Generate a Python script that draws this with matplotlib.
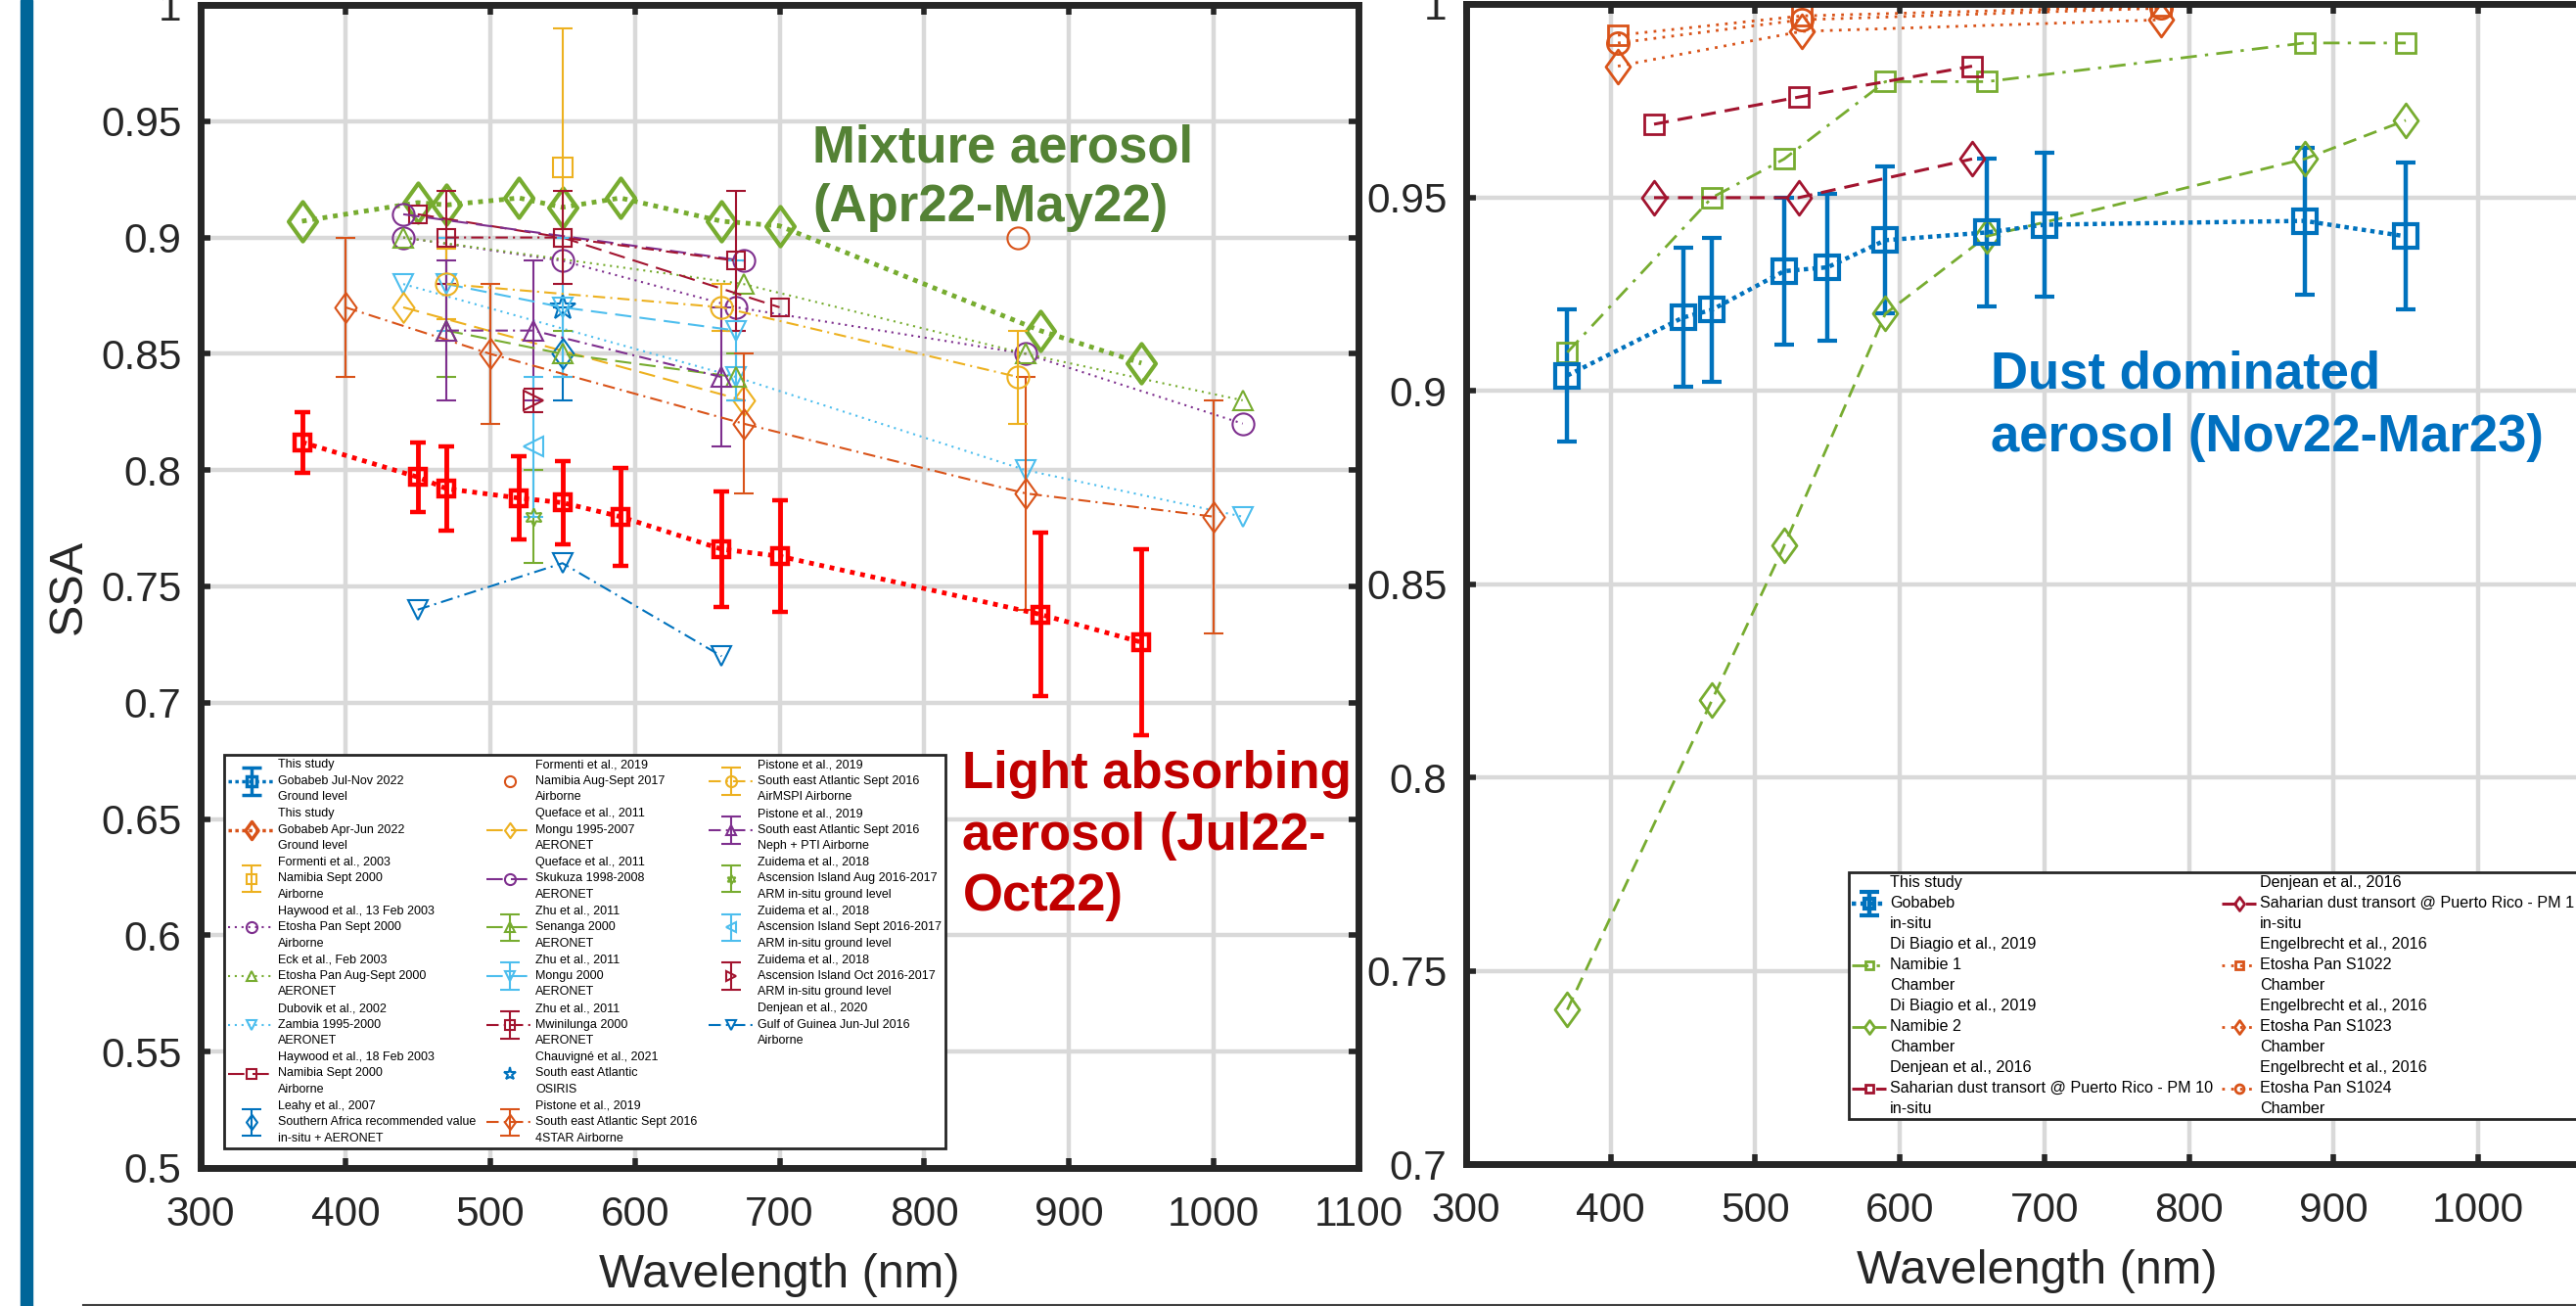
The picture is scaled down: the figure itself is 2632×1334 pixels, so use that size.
import numpy as np
import matplotlib.pyplot as plt
from matplotlib.path import Path
from matplotlib.lines import Line2D
from matplotlib.patches import Rectangle
from matplotlib.container import ErrorbarContainer
from matplotlib.legend_handler import HandlerErrorbar
from matplotlib.ticker import FuncFormatter

plt.rcParams['font.family'] = ['Liberation Sans', 'DejaVu Sans']

# MATLAB default colours
BLUE = '#0072BD'
ORANGE = '#D95319'
YELLOW = '#EDB120'
PURPLE = '#7E2F8E'
GREEN = '#77AC30'
LBLUE = '#4DBEEE'
MAROON = '#A2142F'
AXCOL = '#262626'

# ---------------- left panel data ----------------
# this study, Jul-Nov 2022 (light absorbing)
wl_jul = [370, 450, 470, 520, 550, 590, 660, 700, 880, 950]
ssa_jul = [0.812, 0.797, 0.792, 0.788, 0.786, 0.780, 0.766, 0.763, 0.738, 0.726]
err_jul = [0.013, 0.015, 0.018, 0.018, 0.018, 0.021, 0.025, 0.024, 0.035, 0.040]
# this study, Apr-Jun 2022 (mixture)
wl_apr = [370, 450, 470, 520, 550, 590, 660, 700, 880, 950]
ssa_apr = [0.907, 0.915, 0.914, 0.917, 0.913, 0.917, 0.907, 0.905, 0.860, 0.846]

wl_formenti03, ssa_formenti03, err_formenti03 = [550], [0.93], [0.06]
wl_haywood13 = [440, 550, 670, 870, 1020]
ssa_haywood13 = [0.90, 0.89, 0.87, 0.85, 0.82]
wl_eck = [440, 675, 870, 1020]
ssa_eck = [0.90, 0.88, 0.85, 0.83]
wl_dubovik = [440, 670, 870, 1020]
ssa_dubovik = [0.88, 0.84, 0.80, 0.78]
wl_haywood18 = [450, 550, 700]
ssa_haywood18 = [0.91, 0.90, 0.87]
wl_leahy, ssa_leahy, err_leahy = [550], [0.85], [0.02]
wl_formenti19, ssa_formenti19 = [865], [0.90]
wl_qmongu = [440, 675]
ssa_qmongu = [0.87, 0.83]
wl_skukuza = [440, 675]
ssa_skukuza = [0.91, 0.89]
wl_zhu = [470, 550, 670]
ssa_senanga = [0.86, 0.85, 0.84]
err_senanga = [0.02, 0.01, 0.01]
ssa_zmongu = [0.88, 0.87, 0.86]
err_zmongu = [0.02, 0.03, 0.03]
ssa_mwinilunga = [0.90, 0.90, 0.89]
err_mwinilunga = [0.02, 0.02, 0.03]
wl_chauvigne, ssa_chauvigne = [550], [0.87]
wl_4star = [400, 500, 675, 870, 1000]
ssa_4star = [0.87, 0.85, 0.82, 0.79, 0.78]
err_4star = [0.03, 0.03, 0.03, 0.05, 0.05]
wl_airmspi = [470, 660, 865]
ssa_airmspi = [0.88, 0.87, 0.84]
err_airmspi = [0.015, 0.01, 0.02]
wl_neph = [470, 530, 660]
ssa_neph = [0.86, 0.86, 0.84]
err_neph = [0.03, 0.03, 0.03]
wl_zuidema = [530]
ssa_zaug, err_zaug = [0.78], [0.02]
ssa_zsep, err_zsep = [0.81], [0.03]
ssa_zoct, err_zoct = [0.83], [0.005]
wl_denjean20 = [450, 550, 660]
ssa_denjean20 = [0.74, 0.76, 0.72]

labels_left = [
    "This study\nGobabeb Jul-Nov 2022\nGround level",
    "This study\nGobabeb Apr-Jun 2022\nGround level",
    "Formenti et al., 2003\nNamibia Sept 2000\nAirborne",
    "Haywood et al., 13 Feb 2003\nEtosha Pan Sept 2000\nAirborne",
    "Eck et al., Feb 2003\nEtosha Pan Aug-Sept 2000\nAERONET",
    "Dubovik et al., 2002\nZambia 1995-2000\nAERONET",
    "Haywood et al., 18 Feb 2003\nNamibia Sept 2000\nAirborne",
    "Leahy et al., 2007\nSouthern Africa recommended value\nin-situ + AERONET",
    "Formenti et al., 2019\nNamibia Aug-Sept 2017\nAirborne",
    "Queface et al., 2011\nMongu 1995-2007\nAERONET",
    "Queface et al., 2011\nSkukuza 1998-2008\nAERONET",
    "Zhu et al., 2011\nSenanga 2000\nAERONET",
    "Zhu et al., 2011\nMongu 2000\nAERONET",
    "Zhu et al., 2011\nMwinilunga 2000\nAERONET",
    "Chauvigné et al., 2021\nSouth east Atlantic\nOSIRIS",
    "Pistone et al., 2019\nSouth east Atlantic Sept 2016\n4STAR Airborne",
    "Pistone et al., 2019\nSouth east Atlantic Sept 2016\nAirMSPI Airborne",
    "Pistone et al., 2019\nSouth east Atlantic Sept 2016\nNeph + PTI Airborne",
    "Zuidema et al., 2018\nAscension Island Aug 2016-2017\nARM in-situ ground level",
    "Zuidema et al., 2018\nAscension Island Sept 2016-2017\nARM in-situ ground level",
    "Zuidema et al., 2018\nAscension Island Oct 2016-2017\nARM in-situ ground level",
    "Denjean et al., 2020\nGulf of Guinea Jun-Jul 2016\nAirborne",
]

# ---------------- right panel data ----------------
wl_gob = [370, 450, 470, 520, 550, 590, 660, 700, 880, 950]
ssa_gob = [0.904, 0.919, 0.921, 0.931, 0.932, 0.939, 0.941, 0.943, 0.944, 0.940]
err_gob = [0.017, 0.018, 0.0185, 0.019, 0.019, 0.019, 0.019, 0.0185, 0.019, 0.019]
wl_dibiagio = [370, 470, 520, 590, 660, 880, 950]
ssa_nam1 = [0.91, 0.95, 0.96, 0.98, 0.98, 0.99, 0.99]
ssa_nam2 = [0.74, 0.82, 0.86, 0.92, 0.94, 0.96, 0.97]
wl_denjean16 = [430, 530, 650]
ssa_pm10 = [0.969, 0.976, 0.984]
ssa_pm1 = [0.95, 0.95, 0.96]
wl_engel = [405, 532, 781]
ssa_s1022 = [0.992, 0.997, 0.9995]
ssa_s1023 = [0.984, 0.993, 0.996]
ssa_s1024 = [0.990, 0.996, 0.999]

labels_right = [
    "This study\nGobabeb\nin-situ",
    "Di Biagio et al., 2019\nNamibie 1\nChamber",
    "Di Biagio et al., 2019\nNamibie 2\nChamber",
    "Denjean et al., 2016\nSaharian dust transort @ Puerto Rico - PM 10\nin-situ",
    "Denjean et al., 2016\nSaharian dust transort @ Puerto Rico - PM 1\nin-situ",
    "Engelbrecht et al., 2016\nEtosha Pan S1022\nChamber",
    "Engelbrecht et al., 2016\nEtosha Pan S1023\nChamber",
    "Engelbrecht et al., 2016\nEtosha Pan S1024\nChamber",
]

# marker / line styles
DIAMOND = Path([(0, 1), (0.72, 0), (0, -1), (-0.72, 0), (0, 1)],
               [Path.MOVETO, Path.LINETO, Path.LINETO, Path.LINETO, Path.CLOSEPOLY])
HEXAGRAM = (6, 1, 0)
DOT = (0, (1, 2.3))
BIGDOT = (0, (1, 1.2))
DASH = (0, (8, 4))
DASHDOT = (0, (6, 2.5, 1, 2.5))
DASH_R = (0, (5, 3))
DASHDOT_R = (0, (6, 3, 1.2, 3))


def series(ax, x, y, color, ls, marker, ms, err=None, lw=1.5, mew=1.5, capsize=7):
    if err is None:
        h, = ax.plot(x, y, color=color, linestyle=ls, linewidth=lw, marker=marker,
                     markersize=ms, markerfacecolor='none', markeredgewidth=mew)
    else:
        h = ax.errorbar(x, y, yerr=err, color=color, linestyle=ls, linewidth=lw,
                        marker=marker, markersize=ms, markerfacecolor='none',
                        markeredgewidth=mew, elinewidth=lw, capsize=capsize)
    return h


W, H = 2632, 1334
fig = plt.figure(figsize=(W / 100, H / 100), dpi=100)
ax1 = fig.add_axes([205 / W, 1 - 1193 / H, 1183 / W, 1188 / H])
ax2 = fig.add_axes([1498 / W, 1 - 1189.4 / H, 1181.6 / W, 1185 / H])

# ---------------- left panel ----------------
# plotted data of this study
series(ax1, wl_apr, ssa_apr, GREEN, BIGDOT, DIAMOND, 29, lw=3.5, mew=3)
series(ax1, wl_jul, ssa_jul, 'red', BIGDOT, 's', 12, err=err_jul, lw=3.5, mew=3.2, capsize=6)

# legend proxies (legend colours differ from the plotted ones)
nan = [np.nan]
h_left = [
    ax1.errorbar(nan, nan, yerr=nan, color=BLUE, linestyle=(0, (1, 1)), linewidth=2.5,
                 marker='s', markersize=13, markerfacecolor='none', markeredgewidth=2.5,
                 elinewidth=2.5, capsize=7),
    ax1.plot(nan, nan, color=ORANGE, linestyle=(0, (1, 1)), linewidth=2.5, marker=DIAMOND,
             markersize=26, markerfacecolor='none', markeredgewidth=2.5)[0],
]
h_left += [
    series(ax1, wl_formenti03, ssa_formenti03, YELLOW, 'none', 's', 15, err=err_formenti03),
    series(ax1, wl_haywood13, ssa_haywood13, PURPLE, DOT, 'o', 16),
    series(ax1, wl_eck, ssa_eck, GREEN, DOT, '^', 14),
    series(ax1, wl_dubovik, ssa_dubovik, LBLUE, DOT, 'v', 14),
    series(ax1, wl_haywood18, ssa_haywood18, MAROON, DASH, 's', 13),
    series(ax1, wl_leahy, ssa_leahy, BLUE, 'none', DIAMOND, 22, err=err_leahy),
    series(ax1, wl_formenti19, ssa_formenti19, ORANGE, 'none', 'o', 16),
    series(ax1, wl_qmongu, ssa_qmongu, YELLOW, DASH, DIAMOND, 22),
    series(ax1, wl_skukuza, ssa_skukuza, PURPLE, DASH, 'o', 16),
    series(ax1, wl_zhu, ssa_senanga, GREEN, DASH, '^', 14, err=err_senanga),
    series(ax1, wl_zhu, ssa_zmongu, LBLUE, DASH, 'v', 14, err=err_zmongu),
    series(ax1, wl_zhu, ssa_mwinilunga, MAROON, DASHDOT, 's', 13, err=err_mwinilunga),
    series(ax1, wl_chauvigne, ssa_chauvigne, BLUE, 'none', '*', 19),
    series(ax1, wl_4star, ssa_4star, ORANGE, DASHDOT, DIAMOND, 22, err=err_4star),
    series(ax1, wl_airmspi, ssa_airmspi, YELLOW, DASHDOT, 'o', 16, err=err_airmspi),
    series(ax1, wl_neph, ssa_neph, PURPLE, DASHDOT, '^', 14, err=err_neph),
    series(ax1, wl_zuidema, ssa_zaug, GREEN, 'none', HEXAGRAM, 13, err=err_zaug),
    series(ax1, wl_zuidema, ssa_zsep, LBLUE, 'none', '<', 14, err=err_zsep),
    series(ax1, wl_zuidema, ssa_zoct, MAROON, 'none', '>', 14, err=err_zoct),
    series(ax1, wl_denjean20, ssa_denjean20, BLUE, DASHDOT, 'v', 14),
]
blank = Line2D([], [], linestyle='none', marker='none')

# ---------------- right panel ----------------
h_right = [
    series(ax2, wl_gob, ssa_gob, BLUE, (0, (1, 1)), 's', 17, err=err_gob, lw=3.2, mew=3, capsize=7),
    series(ax2, wl_dibiagio, ssa_nam1, GREEN, DASHDOT_R, 's', 14, lw=2, mew=2),
    series(ax2, wl_dibiagio, ssa_nam2, GREEN, DASH_R, DIAMOND, 25, lw=2, mew=2),
    series(ax2, wl_denjean16, ssa_pm10, MAROON, DASH_R, 's', 14, lw=2.2, mew=2),
    series(ax2, wl_denjean16, ssa_pm1, MAROON, DASH_R, DIAMOND, 25, lw=2.2, mew=2),
    series(ax2, wl_engel, ssa_s1022, ORANGE, DOT, 's', 14, lw=2, mew=2),
    series(ax2, wl_engel, ssa_s1023, ORANGE, DOT, DIAMOND, 25, lw=2, mew=2),
    series(ax2, wl_engel, ssa_s1024, ORANGE, DOT, 'o', 16, lw=2, mew=2),
]

fmt = FuncFormatter(lambda v, p: f'{v:g}')
for ax, ylo in ((ax1, 0.5), (ax2, 0.7)):
    ax.set_xlim(300, 1100)
    ax.set_ylim(ylo, 1.0)
    ax.set_xticks(np.arange(300, 1101, 100))
    ax.set_yticks(np.arange(ylo, 1.0001, 0.05))
    ax.xaxis.set_major_formatter(fmt)
    ax.yaxis.set_major_formatter(fmt)
    ax.grid(True, color='#d9d9d9', linewidth=3.2)
    ax.set_axisbelow(True)
    ax.tick_params(direction='in', length=7, width=4, top=True, right=True,
                   labelsize=30.5, color=AXCOL, labelcolor=AXCOL)
    ax.tick_params(axis='x', pad=20)
    ax.tick_params(axis='y', pad=14)
    for s in ax.spines.values():
        s.set_linewidth(5)
        s.set_color(AXCOL)
    ax.set_xlabel('Wavelength (nm)', fontsize=35, color=AXCOL)

ax1.set_ylabel('SSA', fontsize=35, color=AXCOL)
ax1.yaxis.set_label_coords(-0.0947, 0.5)
ax1.xaxis.set_label_coords(0.5, -0.0732)
ax2.xaxis.set_label_coords(0.494, -0.0727)

# annotations
ax1.text(722.8, 0.9487, 'Mixture aerosol\n(Apr22-May22)', color='#548235', fontsize=38,
         fontweight='bold', ha='left', va='top', linespacing=1.27)
ax1.text(826.4, 0.6797, 'Light absorbing\naerosol (Jul22-\nOct22)', color='#C00000',
         fontsize=38, fontweight='bold', ha='left', va='top', linespacing=1.32, clip_on=False)
ax2.text(662.9, 0.9107, 'Dust dominated\naerosol (Nov22-Mar23)', color='#0070C0',
         fontsize=38, fontweight='bold', ha='left', va='top', linespacing=1.37)

# legends
leg1 = ax1.legend(h_left + [blank], labels_left + [' '], ncol=3, loc='upper left',
                  bbox_to_anchor=(229 / W, 1 - 771 / H), bbox_transform=fig.transFigure,
                  fontsize=9, fancybox=False, framealpha=1, edgecolor=AXCOL,
                  borderpad=0.35, borderaxespad=0, labelspacing=0.38,
                  handlelength=3.76, handletextpad=0.25, columnspacing=0.9,
                  markerscale=0.5,
                  handler_map={ErrorbarContainer: HandlerErrorbar(yerr_size=1.1)})
leg1.get_frame().set_linewidth(2)
for t in leg1.get_texts():
    t.set_linespacing(1.5)

leg2 = ax2.legend(h_right, labels_right, ncol=2, loc='upper left',
                  bbox_to_anchor=(1889 / W, 1 - 891 / H), bbox_transform=fig.transFigure,
                  fontsize=11.6, fancybox=False, framealpha=1, edgecolor=AXCOL,
                  borderpad=0.2, borderaxespad=0, labelspacing=0.37,
                  handlelength=2.17, handletextpad=0.25, columnspacing=0.56,
                  markerscale=0.4,
                  handler_map={ErrorbarContainer: HandlerErrorbar(yerr_size=0.72)})
leg2.get_frame().set_linewidth(2)
for t in leg2.get_texts():
    t.set_linespacing(1.5)

# page decorations of the screenshot
fig.add_artist(Rectangle((21 / W, 0), 12 / W, 1, transform=fig.transFigure,
                         color='#006699', zorder=0))
fig.add_artist(Line2D([85 / W, 1], [1.5 / H, 1.5 / H], transform=fig.transFigure,
                      color='#404040', linewidth=1.5))

fig.savefig('out.png', dpi=100)
